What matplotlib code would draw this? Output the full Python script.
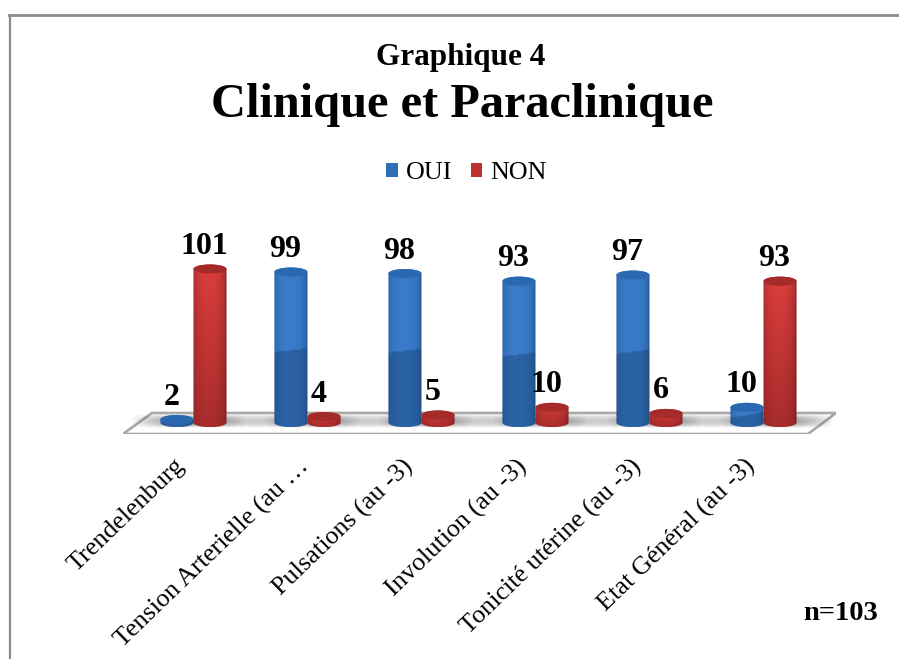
import numpy as np
import matplotlib
matplotlib.use("Agg")
import matplotlib.pyplot as plt
from matplotlib.patches import Ellipse, Polygon, Patch, PathPatch
from matplotlib.path import Path
from matplotlib.lines import Line2D
from matplotlib.transforms import ScaledTranslation

plt.rcParams['font.family'] = ['Liberation Serif', 'DejaVu Serif']

categories = ["Trendelenburg", "Tension Arterielle (au …", "Pulsations (au -3)", "Involution (au -3)",
              "Tonicité utérine (au -3)", "Etat Général (au -3)"]
oui_values = [2, 99, 98, 93, 97, 10]
non_values = [101, 4, 5, 10, 6, 93]

W, H = 899, 659
BAR_W = 0.29
OFFSET = 0.145
CAP_H = 6.0  # ellipse height, in value units

BLUE = dict(edge=np.array([0x24, 0x55, 0x90]), mid=np.array([0x3a, 0x7c, 0xcb]),
            low_edge=np.array([0x1f, 0x4a, 0x80]), low_mid=np.array([0x2b, 0x63, 0xa6]),
            cap=np.array([0x2b, 0x68, 0xb2]))
RED = dict(edge=np.array([0x8c, 0x24, 0x24]), mid=np.array([0xdc, 0x3e, 0x3c]),
           low_edge=np.array([0x7c, 0x20, 0x20]), low_mid=np.array([0xa8, 0x2c, 0x2c]),
           cap=np.array([0xa5, 0x2b, 0x2b]))


def shaded_body(colors, value, split):
    nx, ny = 60, 120
    t = np.linspace(-1, 1, nx)
    prof = np.sqrt(np.clip(1 - (t + 0.05) ** 2, 0, 1)) ** 0.8
    img = np.zeros((ny, nx, 3))
    fy = np.linspace(1, 0, ny)
    for j in range(ny):
        if split:
            lower = (fy[j] < 0.48 + 0.012 * t * (100 / max(value, 10)))[:, None]
            mid = colors['low_mid'] * lower + colors['mid'] * (1 - lower)
            edge = colors['low_edge'] * lower + colors['edge'] * (1 - lower)
        else:
            a = fy[j]
            mid = (colors['low_mid'] * (1 - a) + colors['mid'] * a)[None, :] * np.ones((nx, 1))
            edge = (colors['low_edge'] * (1 - a) + colors['edge'] * a)[None, :] * np.ones((nx, 1))
        img[j] = (edge + (mid - edge) * prof[:, None]) / 255.0
    return img


def cylinder(ax, x, value, colors, split, z):
    x0, x1 = x - BAR_W / 2, x + BAR_W / 2
    ang = np.linspace(np.pi, 2 * np.pi, 40)
    bottom = np.column_stack([x + BAR_W / 2 * np.cos(ang), CAP_H / 2 * np.sin(ang)])
    ang2 = np.linspace(0, np.pi, 40)
    top = np.column_stack([x + BAR_W / 2 * np.cos(ang2), value + CAP_H / 2 * np.sin(ang2)])
    verts = np.vstack([bottom, top, bottom[:1]])
    clip = PathPatch(Path(verts), transform=ax.transData, facecolor='none', edgecolor='none')
    ax.add_patch(clip)
    im = ax.imshow(shaded_body(colors, value, split), extent=[x0, x1, -CAP_H / 2, value + CAP_H / 2],
                   aspect='auto', zorder=z, interpolation='bilinear')
    im.set_clip_path(clip)
    ax.add_patch(Ellipse((x, value), BAR_W, CAP_H, facecolor=colors['cap'] / 255.0,
                         edgecolor='none', zorder=z + 0.1))


def shadow(ax, x, z):
    nx, ny = 80, 30
    gx, gy = np.meshgrid(np.linspace(-1, 1, nx), np.linspace(-1, 1, ny))
    alpha = np.clip(1 - gx ** 2, 0, 1) * np.clip(1 - gy ** 2, 0, 1) * 0.7
    img = np.zeros((ny, nx, 4))
    img[..., :3] = 0.4
    img[..., 3] = alpha
    ax.imshow(img, extent=[x - 0.55, x + 0.62, -3.5, 5.5], aspect='auto', zorder=z)


fig = plt.figure(figsize=(W / 100, H / 100), dpi=100, facecolor='white')

# picture frame, only top and left show
fig.add_artist(Line2D([9.5 / W, 9.5 / W], [0, 1 - 15 / H], color='#8c8c8c', lw=1.6))
fig.add_artist(Line2D([9 / W, 1], [1 - 15 / H, 1 - 15 / H], color='#8c8c8c', lw=2.0))

ax = fig.add_axes([123 / W, 1 - 434 / H, 713 / W, 184 / H])
ax.set_facecolor('none')
for s in ax.spines.values():
    s.set_visible(False)

floor = Polygon([(0, 0), (685 / 713, 0), (1, 21 / 184), (29 / 713, 21 / 184)], closed=True,
                transform=ax.transAxes, facecolor='white', edgecolor='#a8a8a8', lw=1.9, zorder=1)
ax.add_patch(floor)

x_pos = np.arange(len(categories))
z = 3
for i in x_pos:
    shadow(ax, i, 2)
for i in x_pos:
    cylinder(ax, i - OFFSET, oui_values[i], BLUE, True, z)
    cylinder(ax, i + OFFSET, non_values[i], RED, False, z + 1)
    z += 2

for i in x_pos:
    for x, v in ((i - OFFSET, oui_values[i]), (i + OFFSET, non_values[i])):
        ax.annotate(str(v), (x, v), xytext=(-4, 10.8), textcoords='offset points', ha='center',
                    va='baseline', fontsize=23, fontweight='bold', color='black', zorder=50,
                    annotation_clip=False)

ax.set_xlim(-0.618, 5.636)
ax.set_ylim(-7.5, 113.5)
ax.set_yticks([])
ax.set_xticks(x_pos)
ax.set_xticklabels(categories, rotation=44, ha='right', va='top', rotation_mode='anchor', fontsize=18.8)
ax.tick_params(axis='x', length=0, pad=15)
for i, lab in enumerate(ax.get_xticklabels()):
    # the truncated label sits a bit further right
    dx = -7 / 72 if i == 1 else -14 / 72
    lab.set_transform(lab.get_transform() + ScaledTranslation(dx, 0, fig.dpi_scale_trans))

fig.text(461 / W, 1 - 65 / H, "Graphique 4", ha='center', va='baseline', fontsize=22.5, fontweight='bold')
fig.text(462 / W, 1 - 117 / H, "Clinique et Paraclinique", ha='center', va='baseline', fontsize=34.8,
         fontweight='bold')
fig.text(878 / W, 1 - 620 / H, "n=103", ha='right', va='baseline', fontsize=20.5, fontweight='bold')

handles = [Patch(facecolor='#2f6fb8', label='OUI'), Patch(facecolor='#bf3030', label='NON')]
fig.legend(handles=handles, loc='center', bbox_to_anchor=(466.5 / W, 1 - 173 / H), ncol=2, frameon=False,
           fontsize=18.7, handlelength=0.45, handleheight=0.45, handletextpad=0.3, columnspacing=0.7)

fig.savefig("out.png", dpi=100)
